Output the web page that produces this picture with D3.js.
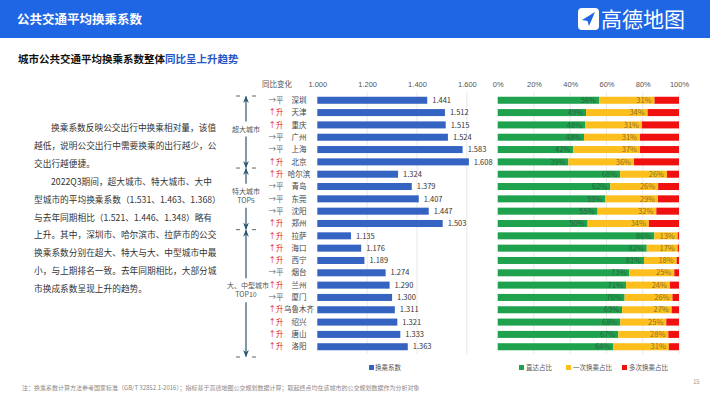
<!DOCTYPE html>
<html>
<head>
<meta charset="utf-8">
<script src="https://cdn.jsdelivr.net/npm/d3@7"></script>
<style>
  body { margin: 0; background: #fff; }
  svg { display: block; font-family: "Noto Sans CJK SC", "Noto Sans", sans-serif; }
</style>
</head>
<body>
<div id="chart"></div>
<script>
var width = 710
var height = 399

// ---------------- data ----------------
var cities = ['深圳', '天津', '重庆', '广州', '上海', '北京',
              '哈尔滨', '青岛', '东莞', '沈阳', '郑州',
              '拉萨', '海口', '西宁', '烟台', '兰州', '厦门', '乌鲁木齐', '绍兴', '唐山', '洛阳'];

var changes = ['平', '升', '升', '平', '平', '升',
               '升', '平', '平', '平', '升',
               '升', '升', '升', '平', '升', '平', '升', '升', '升', '升'];

var coefficients = [1.441, 1.512, 1.515, 1.524, 1.583, 1.608,
                    1.324, 1.379, 1.407, 1.447, 1.503,
                    1.135, 1.176, 1.189, 1.274, 1.290, 1.300, 1.311, 1.321, 1.333, 1.363];

var directShare = [55.9, 48.7, 48.2, 47.6, 41.7, 39.0,
                   67.5, 62.1, 59.4, 55.1, 49.6,
                   86.4, 82.2, 80.7, 72.6, 70.8, 70.0, 68.6, 67.6, 66.5, 63.8];
var oneTransferShare = [30.6, 34.0, 31.4, 30.9, 36.8, 36.2,
                        25.9, 26.4, 29.0, 32.4, 33.8,
                        12.9, 17.1, 18.0, 24.8, 24.2, 26.4, 27.4, 25.4, 27.6, 30.6];
var multiTransferShare = [13.5, 17.3, 20.4, 21.5, 21.5, 24.8,
                          6.6, 11.5, 11.6, 12.5, 16.6,
                          0.7, 0.7, 1.3, 2.6, 5.0, 3.6, 4.0, 7.0, 5.9, 5.6];

var groupNames = [['超大城市'], ['特大城市', 'TOP5'], ['大、中型城市', 'TOP10']];
var groupSizes = [6, 5, 10];

var coefTicks = [1.0, 1.2, 1.4, 1.6];
var shareTicks = [0, 20, 40, 60, 80, 100];
var shareKeys = ['直达占比', '一次换乘占比', '多次换乘占比'];

var introLines = [
  '换乘系数反映公交出行中换乘相对量，该值',
  '越低，说明公交出行中需要换乘的出行越少，公',
  '交出行越便捷。',
  '2022Q3期间，超大城市、特大城市、大中',
  '型城市的平均换乘系数（1.531、1.463、1.368）',
  '与去年同期相比（1.521、1.446、1.348）略有',
  '上升。其中，深圳市、哈尔滨市、拉萨市的公交',
  '换乘系数分别在超大、特大与大、中型城市中最',
  '小，与上期排名一致。去年同期相比，大部分城',
  '市换成系数呈现上升的趋势。'
];
var indented = [0, 3];

var colors = { bar: '#3563c2', direct: '#1fa24e', one: '#fcbf1e', multi: '#f01010', arrow: '#2b5672' };

// ---------------- svg ----------------
var svg = d3.select('#chart')
            .append('svg')
            .attr('width', width)
            .attr('height', height);

var defs = svg.append('defs');
defs.append('marker')
    .attr('id', 'arrow')
    .attr('viewBox', '0 0 10 10')
    .attr('refX', 9).attr('refY', 5)
    .attr('markerWidth', 6).attr('markerHeight', 6)
    .attr('orient', 'auto')
  .append('path')
    .attr('d', 'M0,1 L10,5 L0,9 L3,5 Z')
    .attr('fill', colors.arrow);

// header
svg.append('rect').attr('x', 0).attr('y', 0).attr('width', width).attr('height', 38).attr('fill', '#1f66e5');
svg.append('text').attr('x', 17).attr('y', 24)
   .attr('fill', '#fff').attr('font-size', 12.5).attr('font-weight', 'bold')
   .text('公共交通平均换乘系数');

var logo = svg.append('g').attr('transform', 'translate(578,8)');
logo.append('rect').attr('width', 21).attr('height', 22).attr('rx', 4).attr('fill', '#fff');
logo.append('path').attr('d', 'M4,12 L17,4 L11,18 L9.5,13 Z').attr('fill', '#1f66e5');
svg.append('text').attr('x', 601).attr('y', 27)
   .attr('fill', '#fff').attr('font-size', 21)
   .text('高德地图');

// subtitle
var sub = svg.append('text').attr('x', 18).attr('y', 63).attr('font-size', 10.5).attr('font-weight', 'bold');
sub.append('tspan').attr('fill', '#111').text('城市公共交通平均换乘系数整体');
sub.append('tspan').attr('fill', '#2556c4').text('同比呈上升趋势');

// intro text
svg.append('g').selectAll('text')
   .data(introLines)
   .enter().append('text')
   .attr('x', function (d, i) { return indented.indexOf(i) >= 0 ? 51 : 34; })
   .attr('y', function (d, i) { return 131 + i * 17.9; })
   .attr('font-size', 8.7)
   .attr('fill', '#333')
   .text(function (d) { return d; });

// ---------------- scales ----------------
var y = d3.scaleBand().domain(cities).range([94.1, 352.9]).paddingInner(0.43).paddingOuter(0.215);
var x = d3.scaleLinear().domain([1, 1.7]).range([317.3, 491.8]);
var xs = d3.scaleLinear().domain([0, 100]).range([497.7, 679]);
var gridTop = 92, gridBottom = 354;

function yc(i) { return y(cities[i]) + y.bandwidth() / 2; }

// ---------------- coefficient bars ----------------
var left = svg.append('g');

left.selectAll('line.grid')
    .data(coefTicks.slice(1))
    .enter().append('line')
    .attr('x1', function (d) { return x(d); }).attr('x2', function (d) { return x(d); })
    .attr('y1', gridTop).attr('y2', gridBottom)
    .attr('stroke', '#e3e3e3').attr('stroke-width', 0.8);

var xAxis = left.append('g')
    .attr('transform', 'translate(0,87)')
    .call(d3.axisTop(x).tickValues(coefTicks).tickFormat(d3.format('.3f')).tickSize(0).tickPadding(0));
xAxis.select('.domain').remove();
xAxis.selectAll('text').attr('font-size', 7.5).attr('fill', '#555').attr('font-family', null);

left.append('text').attr('x', 277).attr('y', 87).attr('text-anchor', 'middle')
    .attr('font-size', 7.5).attr('fill', '#555').text('同比变化');

left.selectAll('rect.bar')
    .data(coefficients)
    .enter().append('rect')
    .attr('x', x(1))
    .attr('y', function (d, i) { return y(cities[i]); })
    .attr('width', function (d) { return x(d) - x(1); })
    .attr('height', y.bandwidth())
    .attr('fill', colors.bar);

left.selectAll('text.val')
    .data(coefficients)
    .enter().append('text')
    .attr('x', function (d) { return x(d) + 5; })
    .attr('y', function (d, i) { return yc(i) + 2.7; })
    .attr('font-size', 7.5).attr('fill', '#333')
    .text(function (d) { return d3.format('.3f')(d); });

left.selectAll('text.city')
    .data(cities)
    .enter().append('text')
    .attr('x', 299)
    .attr('y', function (d, i) { return yc(i) + 2.7; })
    .attr('text-anchor', 'middle')
    .attr('font-size', 7.5).attr('fill', '#444')
    .text(function (d) { return d; });

left.selectAll('text.chg')
    .data(changes)
    .enter().append('text')
    .attr('x', 276)
    .attr('y', function (d, i) { return yc(i) + 2.7; })
    .attr('text-anchor', 'middle')
    .attr('font-size', 7.5)
    .attr('fill', function (d) { return d === '升' ? '#e02020' : '#666'; })
    .text(function (d) { return (d === '升' ? '↑' : '→') + d; });

// group brackets
var ax = 246;
var start = 0;
var bounds = [96];
groupSizes.forEach(function (n, g) {
  var last = start + n - 1;
  var bottom = g === groupSizes.length - 1 ? 357 : (yc(last) + yc(last + 1)) / 2;
  bounds.push(bottom);
  start += n;
});

var brackets = svg.append('g');
groupNames.forEach(function (lines, g) {
  var top = bounds[g], bottom = bounds[g + 1];
  var mid = (top + bottom) / 2 - 3;
  var half = lines.length * 4.5 + 3;
  brackets.append('line').attr('x1', ax).attr('x2', ax).attr('y1', mid - half).attr('y2', top + 0.5)
          .attr('stroke', colors.arrow).attr('stroke-width', 1.2).attr('marker-end', 'url(#arrow)');
  brackets.append('line').attr('x1', ax).attr('x2', ax).attr('y1', mid + half).attr('y2', bottom - 0.5)
          .attr('stroke', colors.arrow).attr('stroke-width', 1.2).attr('marker-end', 'url(#arrow)');
  lines.forEach(function (t, k) {
    brackets.append('text')
            .attr('x', ax + (g === 2 && k === 0 ? 2 : 0))
            .attr('y', mid - (lines.length - 1) * 4.5 + k * 9 + 2.5)
            .attr('text-anchor', 'middle')
            .attr('font-size', 7).attr('fill', '#555')
            .text(t);
  });
});
brackets.selectAll('path.dash')
        .data(bounds)
        .enter().append('path')
        .attr('d', function (d) { return 'M' + (ax - 10) + ',' + d + 'h4 M' + (ax + 6) + ',' + d + 'h4'; })
        .attr('stroke', '#555').attr('stroke-width', 0.9);

// ---------------- share stacks ----------------
var right = svg.append('g');

right.selectAll('line.grid')
     .data(shareTicks.slice(1))
     .enter().append('line')
     .attr('x1', function (d) { return xs(d); }).attr('x2', function (d) { return xs(d); })
     .attr('y1', gridTop).attr('y2', gridBottom)
     .attr('stroke', '#e3e3e3').attr('stroke-width', 0.8);

var sAxis = right.append('g')
    .attr('transform', 'translate(0,87)')
    .call(d3.axisTop(xs).tickValues(shareTicks).tickFormat(function (d) { return d + '%'; }).tickSize(0).tickPadding(0));
sAxis.select('.domain').remove();
sAxis.selectAll('text').attr('font-size', 7.5).attr('fill', '#555').attr('font-family', null);

var shareRows = cities.map(function (c, i) {
  return { city: c, '直达占比': directShare[i], '一次换乘占比': oneTransferShare[i], '多次换乘占比': multiTransferShare[i] };
});
var stacked = d3.stack().keys(shareKeys)(shareRows);
var shareColors = d3.scaleOrdinal().domain(shareKeys).range([colors.direct, colors.one, colors.multi]);

var layer = right.selectAll('g.layer')
    .data(stacked)
    .enter().append('g')
    .attr('fill', function (d) { return shareColors(d.key); });

layer.selectAll('rect')
     .data(function (d) { return d; })
     .enter().append('rect')
     .attr('x', function (d) { return xs(d[0]); })
     .attr('y', function (d) { return y(d.data.city); })
     .attr('width', function (d) { return xs(d[1]) - xs(d[0]); })
     .attr('height', y.bandwidth());

layer.filter(function (d) { return d.key !== '多次换乘占比'; })
     .selectAll('text')
     .data(function (d) { return d.map(function (p) { return { p: p, key: d.key }; }); })
     .enter().append('text')
     .attr('x', function (d) { return xs(d.p[1]) - 3; })
     .attr('y', function (d) { return y(d.p.data.city) + y.bandwidth() / 2 + 2.7; })
     .attr('text-anchor', 'end')
     .attr('font-size', 7.5)
     .attr('fill', '#333').attr('fill-opacity', 0.6)
     .text(function (d) { return Math.round(d.p.data[d.key]) + '%'; });

// ---------------- legends ----------------
var legendY = 368;
var leg1 = svg.append('g').attr('transform', 'translate(369,' + legendY + ')');
leg1.append('rect').attr('x', 0).attr('y', -3).attr('width', 5).attr('height', 5).attr('fill', colors.bar);
leg1.append('text').attr('x', 6).attr('y', 2).attr('font-size', 6.5).attr('fill', '#555').text('换乘系数');

var legX = [519, 566, 622];
var leg2 = svg.append('g').selectAll('g')
    .data(shareKeys)
    .enter().append('g')
    .attr('transform', function (d, i) { return 'translate(' + legX[i] + ',' + legendY + ')'; });
leg2.append('rect').attr('x', 0).attr('y', -3).attr('width', 5).attr('height', 5)
    .attr('fill', function (d) { return shareColors(d); });
leg2.append('text').attr('x', 7).attr('y', 2).attr('font-size', 6.5).attr('fill', '#555')
    .text(function (d) { return d; });

// ---------------- footer ----------------
svg.append('text').attr('x', 22).attr('y', 390).attr('font-size', 6).attr('fill', '#888')
   .text('注：换乘系数计算方法参考国家标准（GB/T 32852.1-2016）；指标基于高德地图公交规划数据计算；取起终点均在该城市的公交规划数据作为分析对象');
svg.append('text').attr('x', 693).attr('y', 384).attr('font-size', 6).attr('fill', '#999').text('15');
</script>
</body>
</html>
